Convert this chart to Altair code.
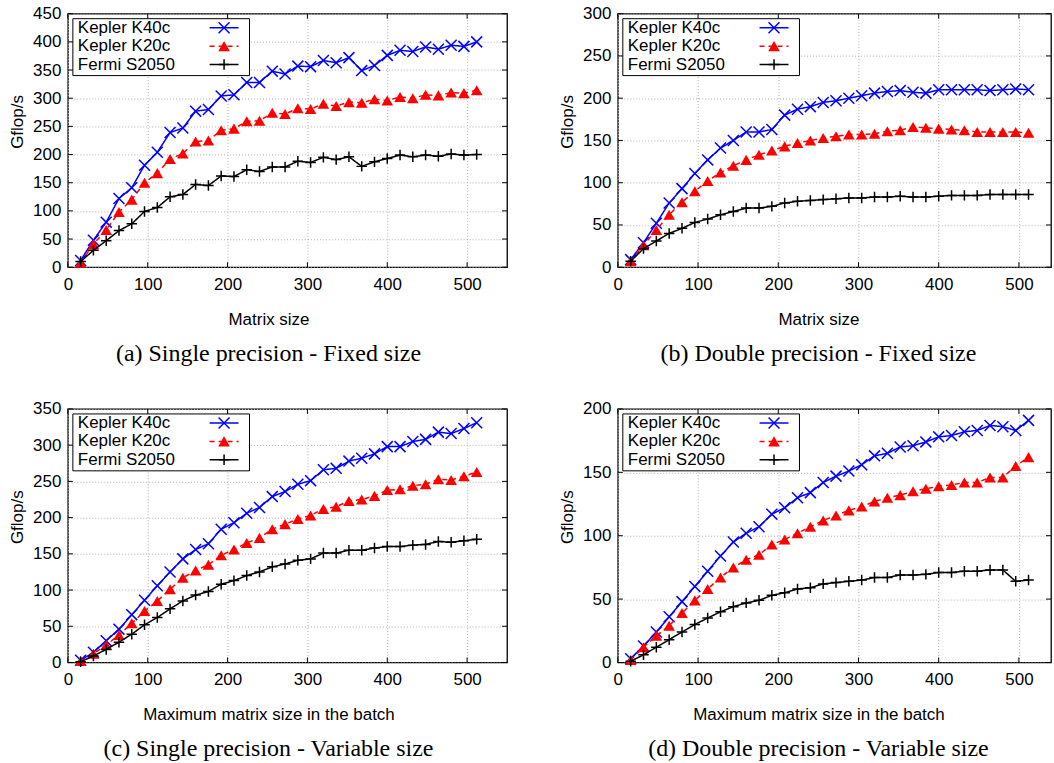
import altair as alt
import pandas as pd

# Matrix sizes (x values)
SIZES = [16, 32, 48, 64, 80, 96, 112, 128, 144, 160, 176, 192, 208, 224, 240, 256,
         272, 288, 304, 320, 336, 352, 368, 384, 400, 416, 432, 448, 464, 480, 496, 512]
X_TICKS = [0, 100, 200, 300, 400, 500]

# (a) Single precision - Fixed size
K40C_A = [12, 48, 80, 122, 141, 181, 204, 239, 247, 277, 280, 304, 306, 328, 328, 348,
          343, 357, 356, 367, 363, 372, 349, 358, 376, 385, 383, 391, 387, 394, 392, 400]
K20C_A = [8, 41, 66, 98, 120, 150, 167, 192, 202, 223, 225, 243, 246, 259, 260, 274,
          272, 282, 281, 290, 286, 293, 292, 298, 296, 302, 300, 306, 305, 310, 309, 314]
FERMI_A = [10, 30, 47, 65, 77, 99, 106, 125, 129, 147, 145, 162, 161, 173, 170, 178,
           178, 188, 186, 195, 191, 196, 179, 187, 193, 199, 196, 199, 197, 201, 199, 200]

# (b) Double precision - Fixed size
K40C_B = [9, 29, 52, 76, 93, 111, 127, 141, 150, 160, 160, 163, 180, 187, 190, 195,
          197, 200, 203, 206, 208, 209, 207, 206, 210, 210, 210, 210, 209, 210, 211, 210]
K20C_B = [7, 26, 44, 62, 77, 90, 102, 112, 120, 127, 133, 138, 143, 147, 150, 153,
          155, 157, 157, 158, 161, 162, 166, 165, 164, 163, 162, 160, 160, 160, 160, 159]
FERMI_B = [7, 22, 31, 40, 46, 53, 57, 62, 66, 70, 70, 72, 76, 78, 79, 80,
           81, 82, 82, 83, 83, 84, 83, 83, 84, 85, 85, 85, 86, 86, 86, 86]

# (c) Single precision - Variable size
K40C_C = [3, 14, 30, 46, 66, 86, 106, 125, 143, 156, 164, 184, 193, 206, 214, 229,
          236, 246, 251, 266, 268, 278, 282, 288, 298, 298, 305, 308, 318, 316, 323, 331]
K20C_C = [2, 12, 24, 38, 54, 71, 85, 101, 117, 127, 135, 148, 156, 165, 172, 184,
          191, 198, 203, 212, 215, 223, 225, 230, 238, 239, 244, 246, 253, 252, 257, 263]
FERMI_C = [1, 9, 18, 28, 39, 52, 62, 74, 85, 93, 98, 108, 113, 120, 125, 132,
           136, 141, 143, 151, 151, 155, 155, 158, 160, 160, 162, 163, 167, 166, 168, 170]

# (d) Double precision - Variable size
K40C_D = [3, 13, 24, 36, 48, 60, 72, 84, 95, 102, 107, 117, 122, 130, 134, 142,
          147, 151, 156, 163, 165, 170, 171, 174, 178, 179, 182, 183, 187, 186, 183, 191]
K20C_D = [2, 12, 21, 29, 39, 49, 58, 67, 75, 81, 85, 93, 97, 102, 107, 112,
          116, 120, 123, 127, 130, 132, 135, 137, 139, 140, 142, 142, 146, 146, 155, 162]
FERMI_D = [1, 6, 12, 18, 24, 30, 35, 40, 44, 47, 49, 53, 55, 58, 59, 62,
           63, 64, 65, 67, 67, 69, 69, 69.5, 71, 71, 72, 72, 73, 73, 64, 65]

SERIES = ["Kepler K40c", "Kepler K20c", "Fermi S2050"]
COLORS = ["#0000ff", "#ff0000", "#000000"]
DASHES = [[1, 0], [5, 4], [1, 0]]
X_PATH = "M-1,-1L1,1M-1,1L1,-1"
PLUS_PATH = "M-1,0L1,0M0,-1L0,1"
SANS = "Liberation Sans"
SERIF = "Liberation Serif"
FS = 17


def one():
    return pd.DataFrame({"a": [0]})


def point_mark(i):
    if i == 0:
        return alt.MarkDef(type="point", shape=X_PATH, filled=False, size=121,
                           strokeWidth=1.5, color=COLORS[0], opacity=1)
    if i == 1:
        return alt.MarkDef(type="point", shape="triangle-up", filled=True, size=135,
                           color=COLORS[1], opacity=1)
    return alt.MarkDef(type="point", shape=PLUS_PATH, filled=False, size=110,
                       strokeWidth=1.5, color=COLORS[2], opacity=1)


def panel(vals, ymax, xmax, width, height, xtitle, caption):
    df = pd.DataFrame({"x": SIZES, "s0": vals[0], "s1": vals[1], "s2": vals[2]})
    yticks = list(range(0, ymax + 1, 50))
    xscale = alt.Scale(domain=[0, xmax], nice=False, zero=False)
    yscale = alt.Scale(domain=[0, ymax], nice=False)
    xaxis = alt.Axis(values=X_TICKS, title=xtitle, labelFlush=False, labelOverlap=False,
                     labelPadding=9, titleX=201, titleY=52, titleBaseline="middle",
                     titleAlign="center", titleAnchor=None)
    yaxis = alt.Axis(values=yticks, title="Gflop/s", labelPadding=7, labelOverlap=False,
                     titleX=-50, titleY=108, titleBaseline="middle", titleAlign="center",
                     titleAngle=-90)

    layers = []
    for i in range(3):
        enc = dict(x=alt.X("x:Q", scale=xscale, axis=xaxis),
                   y=alt.Y(f"s{i}:Q", scale=yscale, axis=yaxis))
        layers.append(alt.Chart(df).mark_line(color=COLORS[i], strokeWidth=1.5,
                                              strokeDash=DASHES[i]).encode(**enc))
        layers.append(alt.Chart(df).mark_point().encode(**enc).properties(mark=point_mark(i))
                      if False else alt.Chart(df, mark=point_mark(i)).encode(**enc))

    # inward tick marks on all four sides
    xt = pd.DataFrame({"v": X_TICKS})
    yt = pd.DataFrame({"v": yticks})
    tx = alt.X("v:Q", scale=xscale, axis=xaxis)
    ty = alt.Y("v:Q", scale=yscale, axis=yaxis)
    layers.append(alt.Chart(xt).mark_rule(color="black", strokeWidth=1).encode(
        x=tx, y=alt.value(0), y2=alt.value(5)))
    layers.append(alt.Chart(xt).mark_rule(color="black", strokeWidth=1).encode(
        x=tx, y=alt.value(height - 5), y2=alt.value(height)))
    layers.append(alt.Chart(yt).mark_rule(color="black", strokeWidth=1).encode(
        y=ty, x=alt.value(0), x2=alt.value(5)))
    layers.append(alt.Chart(yt).mark_rule(color="black", strokeWidth=1).encode(
        y=ty, x=alt.value(width - 5), x2=alt.value(width)))

    # legend box (top-left, inside the plot)
    layers.append(alt.Chart(one()).mark_rect(fill="white", stroke="black", strokeWidth=1).encode(
        x=alt.value(5), x2=alt.value(182), y=alt.value(5), y2=alt.value(62)))
    rows = [14, 32.5, 51]
    for i in range(3):
        layers.append(alt.Chart(one()).mark_text(
            font=SANS, fontSize=FS, align="left", baseline="middle", color="black").encode(
            x=alt.value(10), y=alt.value(rows[i]), text=alt.value(SERIES[i])))
        layers.append(alt.Chart(one()).mark_rule(
            color=COLORS[i], strokeWidth=1.5, strokeDash=DASHES[i]).encode(
            x=alt.value(142), x2=alt.value(171), y=alt.value(rows[i])))
        layers.append(alt.Chart(one(), mark=point_mark(i)).encode(
            x=alt.value(156.5), y=alt.value(rows[i])))

    # caption under the panel
    layers.append(alt.Chart(one()).mark_text(
        font=SERIF, fontSize=24, align="center", baseline="middle", color="black").encode(
        x=alt.value(201), y=alt.value(height + 87), text=alt.value(caption)))

    return alt.layer(*layers).properties(width=width, height=height)


H = 254
pa = panel([K40C_A, K20C_A, FERMI_A], 450, 550, 440, H, "Matrix size",
           "(a) Single precision - Fixed size")
pb = panel([K40C_B, K20C_B, FERMI_B], 300, 540, 434, H, "Matrix size",
           "(b) Double precision - Fixed size")
pc = panel([K40C_C, K20C_C, FERMI_C], 350, 550, 440, H, "Maximum matrix size in the batch",
           "(c) Single precision - Variable size")
pd_ = panel([K40C_D, K20C_D, FERMI_D], 200, 540, 434, H, "Maximum matrix size in the batch",
            "(d) Double precision - Variable size")

chart = alt.concat(pa, pb, pc, pd_, columns=2, spacing={"row": 142, "column": 111},
                   bounds="flush").properties(
    padding={"left": 8, "top": 3, "right": 1, "bottom": 1},
    background="white",
).configure_view(
    stroke="black", strokeWidth=1.3
).configure_axis(
    labelFont=SANS, labelFontSize=FS, labelColor="black",
    titleFont=SANS, titleFontSize=FS, titleFontWeight="normal", titleColor="black",
    domain=False, ticks=False, tickSize=0, grid=True,
    gridColor="#b0b0b0", gridDash=[1, 2], gridWidth=1, gridOpacity=1,
)

chart.save("out.html", embed_options={"renderer": "svg", "actions": False})
